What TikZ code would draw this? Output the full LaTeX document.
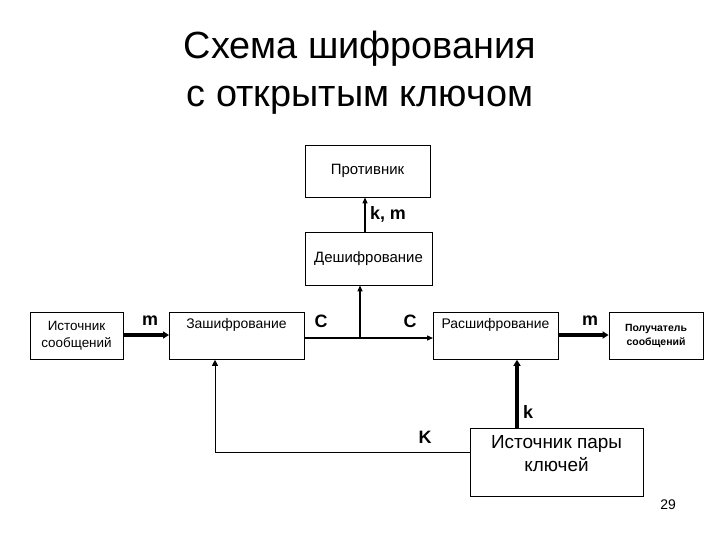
\documentclass[tikz,border=0pt]{standalone}
\usepackage{fontspec}
\setmainfont{Liberation Sans}
\usetikzlibrary{arrows.meta}
\begin{document}
\begin{tikzpicture}[x=1bp,y=-1bp,
 box/.style={draw,line width=0.8bp,inner sep=0pt},
 thin/.style={line width=1.2bp,-{Triangle[length=6bp,width=5bp]}},
 thick/.style={line width=3.5bp,-{Triangle[length=6bp,width=7bp]}},
 lbl/.style={font=\fontsize{18}{18}\selectfont\bfseries}]
\useasboundingbox (0,0) rectangle (720,540);
\node[align=center,font=\fontsize{38}{48}\selectfont] (title) at (360,73) {Схема шифрования\\с открытым ключом};
\node[box,minimum width=125bp,minimum height=52bp,font=\fontsize{15}{17}\selectfont] (prot) at (367.5,171) {Противник};
\node[box,minimum width=127bp,minimum height=53bp,font=\fontsize{15}{17}\selectfont] (desh) at (368.5,258.5) {Дешифрование};
\node[box,minimum width=93bp,minimum height=47bp,align=center,font=\fontsize{13.5}{17}\selectfont] (src) at (76.5,335.5) {Источник\\сообщений};
\node[box,minimum width=135bp,minimum height=47bp,anchor=north west] (zash) at (169,312) {};
\node[font=\fontsize{14}{16}\selectfont] (zasht) at (236.5,325) {Зашифрование};
\node[box,minimum width=125bp,minimum height=47bp,anchor=north west] (rash) at (433,312) {};
\node[font=\fontsize{14}{16}\selectfont] (rasht) at (495.5,325) {Расшифрование};
\node[box,minimum width=94bp,minimum height=47bp,align=center,font=\fontsize{10.5}{14}\selectfont\bfseries] (recv) at (656,335.5) {Получатель\\сообщений};
\node[box,minimum width=173bp,minimum height=68bp,anchor=north west] (keys) at (470,428) {};
\node[align=center,font=\fontsize{19}{23}\selectfont] (keyst) at (556.5,454) {Источник пары\\ключей};
\node[font=\fontsize{14}{14}\selectfont] (page) at (668,505) {29};
% connectors
\draw[thick] (src.east |- 0,335) -- (zash.west |- 0,335);
\node[lbl] (lm1) at (150,321) {m};
\coordinate (split) at (360,338);
\draw[line width=1.2bp] (zash.east |- split) -- (split);
\draw[thin] (split) -- (rash.west |- split);
\draw[thin] (split) -- (split |- desh.south);
\node[lbl] (lc1) at (321,321) {C};
\node[lbl] (lc2) at (410,321) {C};
\draw[thin] (desh.north -| 365,0) -- (prot.south -| 365,0);
\node[lbl] (lkm) at (388,214) {k, m};
\draw[thick] (rash.east |- 0,335) -- (recv.west |- 0,335);
\node[lbl] (lm2) at (590,321) {m};
\draw[thick] (keys.north -| 517,0) -- (rash.south -| 517,0);
\node[lbl] (lk) at (528,412) {k};
\coordinate (corner) at (215,452);
\draw[line width=1bp,-{Triangle[length=6bp,width=6bp]}] (keys.west |- corner) -- (corner) -- (zash.south -| corner);
\node[lbl] (lK) at (425,437) {K};
\end{tikzpicture}
\end{document}
